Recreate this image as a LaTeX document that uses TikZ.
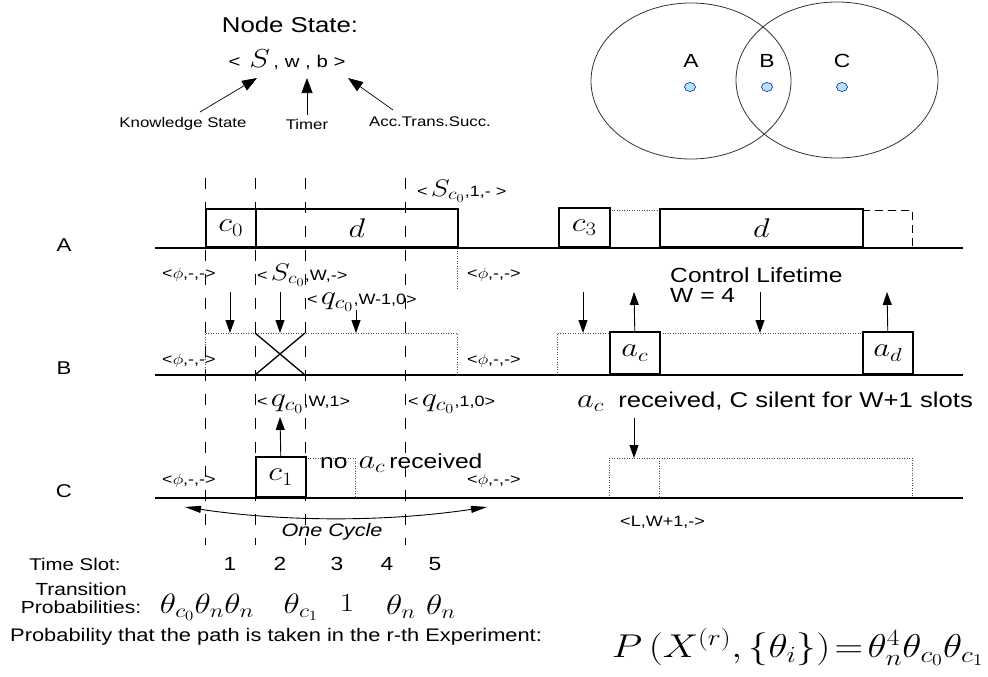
\RequirePackage{fix-cm}
\documentclass[tikz,border=0pt]{standalone}
\usepackage{fontspec}
\setmainfont{Liberation Sans}
\usetikzlibrary{arrows.meta}
\newcommand\myfs[1]{\fontsize{#1}{#1}\selectfont}
\newcommand\hs[1]{\scalebox{1.2}[1]{#1}}
\begin{document}
\begin{tikzpicture}[x=1pt,y=-1pt,
  txt/.style={inner sep=0pt,xscale=1.2},
  lab/.style={txt,anchor=west,font=\myfs{15}},
  tl/.style={line width=1.6pt},
  box/.style={draw,line width=1.6pt,inner sep=0pt,anchor=south west,fill=white},
  vdash/.style={line width=0.8pt,dash pattern=on 11pt off 13pt},
  dotl/.style={line width=0.7pt,dash pattern=on 1pt off 1.5pt,black!70},
  arr/.style={line width=0.9pt,-{Triangle[length=13pt,width=9pt]}},
  sarr/.style={line width=0.7pt,-{Triangle[length=15pt,width=11pt]}},
  circ/.style={line width=0.8pt,black!80},
  dotst/.style={fill=blue!35!cyan!30,draw=blue!60!black,line width=0.5pt}]
\useasboundingbox (0,0) rectangle (988,677);

% ---------- node state legend ----------
\node[txt,font=\myfs{21.5}] (title) at (290,25) {Node State:};
\node[txt,font=\myfs{17}] (tuple) at (287,60) {< \,{\myfs{26}$S$}\,, w , b >};
\node[txt,font=\myfs{14}] (ks) at (183,124) {Knowledge State};
\node[txt,font=\myfs{14}] (tm) at (307,124) {Timer};
\node[txt,font=\myfs{14}] (acc) at (430,122) {Acc.Trans.Succ.};
\coordinate (ks0) at (200,112); \coordinate (ks1) at (257,78);
\coordinate (tm0) at (307,115); \coordinate (tm1) at (307,78);
\coordinate (ac0) at (393,110); \coordinate (ac1) at (348,78);
\draw[sarr] (ks0) -- (ks1);
\draw[sarr] (tm0) -- (tm1);
\draw[sarr] (ac0) -- (ac1);

% ---------- topology ----------
\draw[circ] (691,81) ellipse [x radius=100, y radius=78];
\draw[circ] (837,80) ellipse [x radius=101, y radius=78];
\filldraw[dotst] (690,87) ellipse [x radius=5.5, y radius=4.5];
\filldraw[dotst] (767,87) ellipse [x radius=5.5, y radius=4.5];
\filldraw[dotst] (842,87) ellipse [x radius=5.5, y radius=4.5];
\node[txt,font=\myfs{19}] (nA) at (691,61) {A};
\node[txt,font=\myfs{19}] (nB) at (767,61) {B};
\node[txt,font=\myfs{19}] (nC) at (842,61) {C};

% ---------- row labels ----------
\node[txt,font=\myfs{18.5}] (rA) at (64,245) {A};
\node[txt,font=\myfs{18.5}] (rB) at (64,368) {B};
\node[txt,font=\myfs{18.5}] (rC) at (64,491) {C};

% ---------- dotted / dashed outlines (below boxes) ----------
\draw[dotl] (609,210) -- (659,210);
\draw[line width=0.8pt,dash pattern=on 8pt off 5pt] (862,210) -- (912,210) -- (912,248);
\draw[dotl] (457,248) -- (457,290);
\draw[dotl] (205,375) rectangle (457,333);
\draw[dotl] (557,375) rectangle (912,333);
\draw[dotl] (305,458) -- (355,458) -- (355,498);
\draw[dotl] (609,498) rectangle (912,458);
\draw[dotl] (659,458) -- (659,498);

% ---------- timelines ----------
\draw[tl] (155,248) -- (963,248);
\draw[tl] (155,375) -- (963,375);
\draw[tl] (155,498) -- (963,498);

% ---------- boxes ----------
\node[box,minimum width=50pt,minimum height=38pt] (c0) at (205,248) {\hs{\myfs{27}$c_0$}};
\node[box,minimum width=202pt,minimum height=38pt] (d1) at (255,248) {\hs{\myfs{27}$d$}};
\node[box,minimum width=51pt,minimum height=39pt] (c3) at (558,248) {\hs{\myfs{27}$c_3$}};
\node[box,minimum width=203pt,minimum height=38pt] (d2) at (659,248) {\hs{\myfs{27}$d$}};
\node[box,minimum width=50pt,minimum height=42pt] (ac) at (609,375) {\hs{\myfs{27}$a_c$}};
\node[box,minimum width=50pt,minimum height=42pt] (ad) at (862,375) {\hs{\myfs{27}$a_d$}};
\node[box,minimum width=50pt,minimum height=40pt] (c1) at (255,498) {\hs{\myfs{27}$c_1$}};
\draw[line width=1.3pt] (255,333) -- (305,375) (255,375) -- (305,333);

% ---------- vertical slot lines ----------
\foreach \x in {205,255,305,405} \draw[vdash] (\x,178) -- (\x,545);

% ---------- arrows ----------
\coordinate (b1s) at (230,292); \coordinate (b1e) at (230,333);
\coordinate (b2s) at (280,292); \coordinate (b2e) at (280,333);
\coordinate (b3s) at (356,310); \coordinate (b3e) at (356,333);
\coordinate (b4s) at (583,292); \coordinate (b4e) at (583,333);
\coordinate (b5s) at (760,292); \coordinate (b5e) at (760,333);
\coordinate (acu) at (634,292); \coordinate (adu) at (887,292);
\coordinate (c1u) at (280,417);
\coordinate (cRs) at (634,418); \coordinate (cRe) at (634,458);
\draw[arr] (b1s) -- (b1e);
\draw[arr] (b2s) -- (b2e);
\draw[arr] (b3s) -- (b3e);
\draw[arr] (b4s) -- (b4e);
\draw[arr] (b5s) -- (b5e);
\draw[arr] (ac.north) -- (acu);
\draw[arr] (ad.north) -- (adu);
\draw[arr] (c1.north) -- (c1u);
\draw[arr] (cRs) -- (cRe);

% ---------- state labels ----------
\node[lab] (lA1) at (162,275) {<$\phi$,-,->};
\node[lab] (lA2) at (257,275) {<\,{\myfs{24}$S_{c_0}$},W,->};
\node[lab] (lA3) at (467,275) {<$\phi$,-,->};
\node[lab] (lA4) at (417,191) {<\,{\myfs{24}$S_{c_0}$},1,- >};
\node[lab] (lB0) at (307,302) {<\,{\myfs{27}$q_{c_0}$},W-1,0>};
\node[lab] (lB1) at (162,361) {<$\phi$,-,->};
\node[lab] (lB2) at (467,361) {<$\phi$,-,->};
\node[lab] (lC0) at (257,404) {<\,{\myfs{27}$q_{c_0}$},W,1>};
\node[lab] (lC1) at (408,404) {<\,{\myfs{27}$q_{c_0}$},1,0>};
\node[lab] (lC2) at (162,481) {<$\phi$,-,->};
\node[lab] (lC3) at (467,481) {<$\phi$,-,->};
\node[lab] (lL) at (620,522) {<L,W+1,->};

\node[txt,anchor=west,font=\myfs{20.5}] (noac) at (320,463) {no \,{\myfs{27}$a_c$}\,received};
\node[txt,anchor=west,font=\myfs{21.4}] (acr) at (577,402) {{\myfs{27}$a_c$}\; received, C silent for W+1 slots};
\node[txt,anchor=west,font=\myfs{20.5},align=left] (ctl) at (670,285) {Control Lifetime\\W = 4};

% ---------- one cycle ----------
\coordinate (cy0) at (185,507); \coordinate (cy1) at (487,507);
\draw[line width=0.9pt,{Triangle[length=16pt,width=7pt]}-{Triangle[length=16pt,width=7pt]}] (cy0) .. controls (285,522) and (387,522) .. (cy1);
\node[txt,font=\myfs{18}\itshape] (oc) at (332,532) {One Cycle};

% ---------- bottom rows ----------
\node[txt,font=\myfs{17}] (ts) at (75,564) {Time Slot:};
\node[txt,font=\myfs{19}] (t1) at (230,564) {1};
\node[txt,font=\myfs{19}] (t2) at (280,564) {2};
\node[txt,font=\myfs{19}] (t3) at (337,564) {3};
\node[txt,font=\myfs{19}] (t4) at (387,564) {4};
\node[txt,font=\myfs{19}] (t5) at (435,564) {5};
\node[txt,font=\myfs{17.5},align=center] (tp) at (81,598) {Transition\\Probabilities:};
\node[txt,font=\myfs{28}] (th1) at (207,607) {$\theta_{c_0}\theta_n\theta_n$};
\node[txt,font=\myfs{28}] (th2) at (301,607) {$\theta_{c_1}$};
\node[txt,font=\myfs{26}] (th3) at (347,603) {$1$};
\node[txt,font=\myfs{28}] (th4) at (401,607) {$\theta_n$};
\node[txt,font=\myfs{28}] (th5) at (441,607) {$\theta_n$};
\node[txt,anchor=west,font=\myfs{18.2}] (pr) at (10,637) {Probability that the path is taken in the r-th Experiment:};
\node[txt,anchor=east,font=\myfs{33}] (form) at (984,647) {$P\,(X^{(r)},\{\theta_i\})\!=\!\theta_n^4\theta_{c_0}\theta_{c_1}$};
\end{tikzpicture}
\end{document}
